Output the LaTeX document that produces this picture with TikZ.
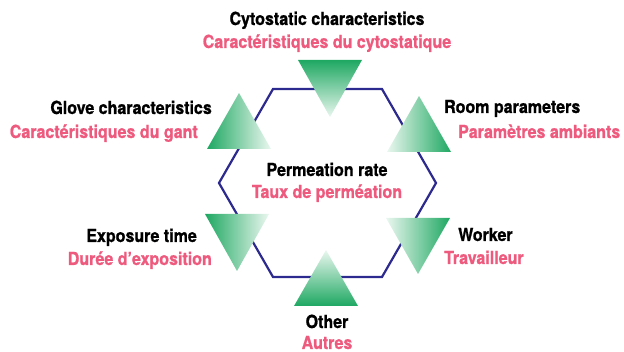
\documentclass[tikz,border=0pt]{standalone}
\usepackage{fontspec}
\setmainfont{TeX Gyre Heros}[FakeStretch=0.89, BoldFeatures={FakeBold=1}]
\definecolor{tgreen}{HTML}{1EA862}
\definecolor{tlight}{HTML}{EAF7EF}
\definecolor{hexblue}{HTML}{2C2A8E}
\definecolor{lblpink}{HTML}{EE5A7E}
\tikzset{
  en/.style={inner sep=0pt, font=\bfseries\fontsize{18}{20}\selectfont, text=black, anchor=base},
  fr/.style={inner sep=0pt, font=\bfseries\fontsize{18}{20}\selectfont, text=lblpink, anchor=base},
  hexline/.style={draw=hexblue, line width=2.2pt, line join=miter},
}
\begin{document}
\begin{tikzpicture}[x=1pt,y=-1pt]
\useasboundingbox (0,0) rectangle (624,352);
% hexagon
\draw[hexline] (273,89) -- (382,89) -- (436,183) -- (382,277) -- (273,277) -- (219,183) -- cycle;
% triangles
\shade[top color=tgreen, bottom color=tlight] (298,60) -- (362,60) -- (330,117) -- cycle;
\shade[top color=tlight, bottom color=tgreen] (326,250) -- (358,306) -- (294,306) -- cycle;
\shade[left color=tgreen, right color=tlight] (239,93) -- (271,149) -- (207,149) -- cycle;
\shade[left color=tlight, right color=tgreen] (419,96) -- (451,152) -- (387,152) -- cycle;
\shade[left color=tgreen, right color=tlight] (205,214) -- (269,214) -- (237,271) -- cycle;
\shade[left color=tlight, right color=tgreen] (386,218) -- (450,218) -- (418,274) -- cycle;
% labels
\node[en] (cyen) at (327,25) {Cytostatic characteristics};
\node[fr] (cyfr) at (327,48) {Caractéristiques du cytostatique};
\node[en, anchor=base east] (glen) at (212,114) {Glove characteristics};
\node[fr, anchor=base east] (glfr) at (198,138) {Caractéristiques du gant};
\node[en, anchor=base west] (roen) at (444,113) {Room parameters};
\node[fr, anchor=base west] (rofr) at (458,138) {Paramètres ambiants};
\node[en] (peen) at (327,176) {Permeation rate};
\node[fr] (pefr) at (327,198) {Taux de perméation};
\node[en, anchor=base east] (exen) at (197,242) {Exposure time};
\node[fr, anchor=base east] (exfr) at (212,265) {Durée d’exposition};
\node[en, anchor=base west] (woen) at (458,241) {Worker};
\node[fr, anchor=base west] (wofr) at (444,264) {Travailleur};
\node[en] (oten) at (327,328) {Other};
\node[fr] (otfr) at (327,349) {Autres};
\end{tikzpicture}
\end{document}
